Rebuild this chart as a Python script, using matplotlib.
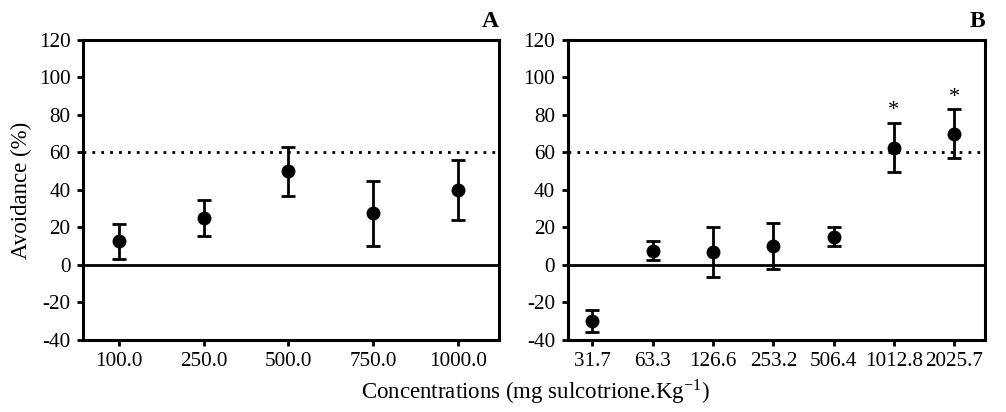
import matplotlib
matplotlib.use('Agg')
import matplotlib.pyplot as plt

# Panel A data
conc_a = ['100.0', '250.0', '500.0', '750.0', '1000.0']
mean_a = [12.5, 25.0, 50.0, 27.5, 40.0]
err_a = [9.5, 9.6, 13.0, 17.5, 15.8]

# Panel B data
conc_b = ['31.7', '63.3', '126.6', '253.2', '506.4', '1012.8', '2025.7']
mean_b = [-30.0, 7.5, 6.8, 10.1, 15.0, 62.6, 70.0]
err_b = [5.8, 5.0, 13.3, 12.2, 5.0, 13.3, 13.0]
signif_b = [False, False, False, False, False, True, True]

plt.rcParams['font.family'] = ['Liberation Serif', 'DejaVu Serif']
plt.rcParams['mathtext.fontset'] = 'stix'
plt.rcParams['axes.unicode_minus'] = False

fig = plt.figure(figsize=(10.06, 4.12), dpi=100)
ax_a = fig.add_axes([0.0825, 0.175, 0.4135, 0.728])
ax_b = fig.add_axes([0.5643, 0.175, 0.4148, 0.728])


def draw_panel(ax, labels, means, errs, letter, xlim):
    x = list(range(len(labels)))
    ax.axhline(0, color='black', lw=2, zorder=1)
    ax.axhline(60, color='black', lw=2, ls=(0, (1, 2.2)), zorder=1)
    ax.errorbar(x, means, yerr=errs, fmt='o', color='black', ms=9,
                elinewidth=2, capsize=5, capthick=2, zorder=3)
    ax.set_xlim(*xlim)
    ax.set_ylim(-40, 120)
    ax.set_yticks(range(-40, 121, 20))
    ax.set_xticks(x)
    ax.set_xticklabels(labels)
    ax.tick_params(direction='out', length=4, width=2, labelsize=15.2,
                   pad=5)
    for s in ax.spines.values():
        s.set_linewidth(2.2)
    ax.text(1.0, 1.025, letter, transform=ax.transAxes, ha='right',
            va='bottom', fontsize=17, fontweight='bold')


draw_panel(ax_a, conc_a, mean_a, err_a, 'A', (-0.42, 4.48))
draw_panel(ax_b, conc_b, mean_b, err_b, 'B', (-0.41, 6.51))

for i, s in enumerate(signif_b):
    if s:
        ax_b.text(i, mean_b[i] + err_b[i] + 1.5, '*', ha='center',
                  va='bottom', fontsize=16)

ax_a.set_ylabel('Avoidance (%)', fontsize=16.5, labelpad=5)
fig.text(0.532, 0.015, r'Concentrations (mg sulcotrione.Kg$^{\mathregular{-1}}$)',
         ha='center', va='bottom', fontsize=16.5)

fig.savefig('out.png', dpi=100)
